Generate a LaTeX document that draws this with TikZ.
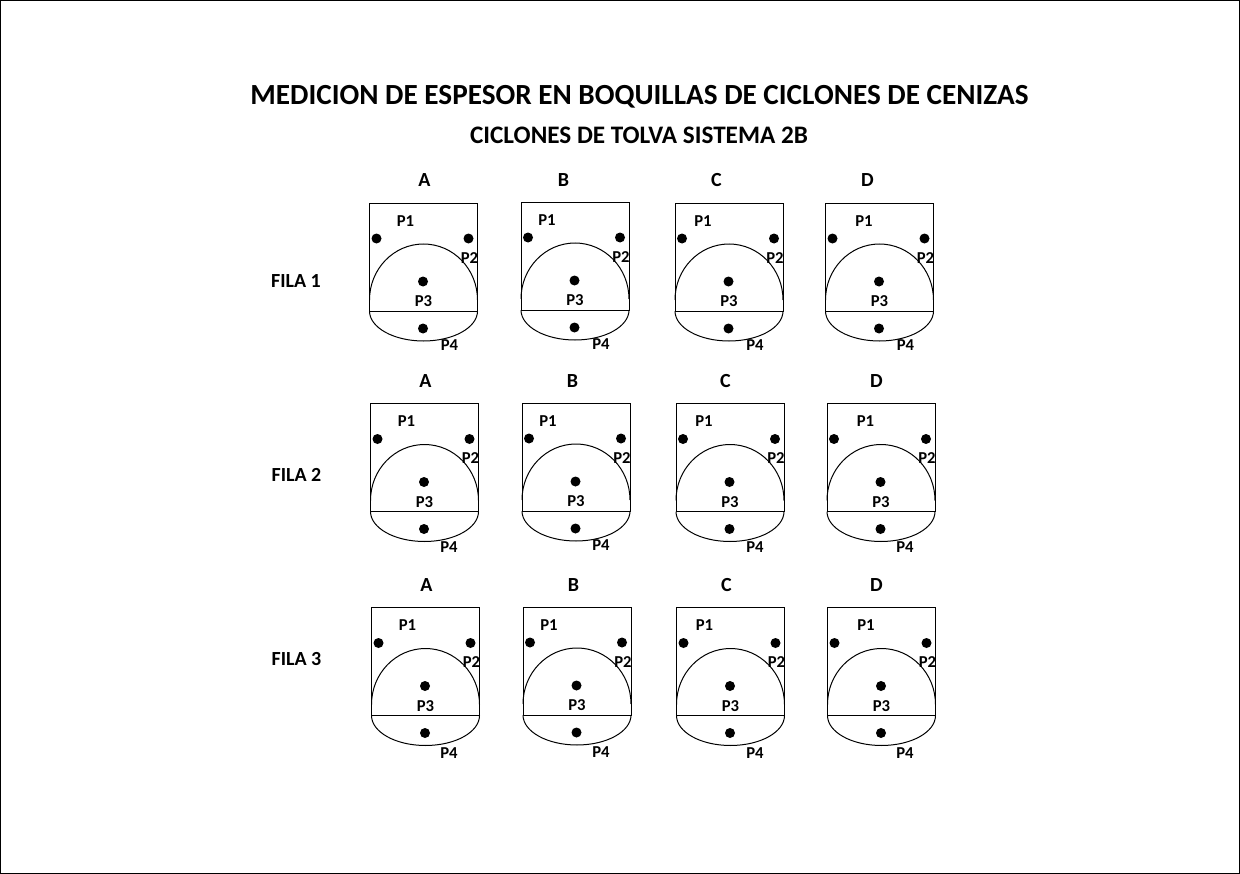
\documentclass[tikz,border=0pt]{standalone}
\usepackage{fontspec}
\setmainfont{Carlito}
\tikzset{
x=0.75pt, y=-0.75pt, % one unit is one pixel of the sheet, y going down
every node/.style={font=\bfseries\fontsize{12}{14}\selectfont, inner sep=0pt},
titlelabel/.style={font=\bfseries\fontsize{21.9}{26}\selectfont},
subtitlelabel/.style={font=\bfseries\fontsize{18.9}{22}\selectfont},
rowlabel/.style={font=\bfseries\fontsize{15}{18}\selectfont},
columnlabel/.style={font=\bfseries\fontsize{15}{18}\selectfont},
pointlabel/.style={font=\bfseries\fontsize{12.5}{15}\selectfont},
dot/.style={circle, fill=black, minimum size=7.5pt},
outline/.style={black, line width=0.75pt},
}
\begin{document}
\begin{tikzpicture}
      \useasboundingbox (0,0) rectangle (1240,874);
      \draw[outline] (0.5,0.5) rectangle (1239.5,873.5);

      \node[titlelabel] (title) at (639.5,96.5) {MEDICION DE ESPESOR EN BOQUILLAS DE CICLONES DE CENIZAS};
      \node[subtitlelabel] (subtitle) at (639,135) {CICLONES DE TOLVA SISTEMA 2B};

      \node[rowlabel] (fila1) at (296,281) {FILA 1};
      \node[rowlabel] (fila2) at (296.5,475) {FILA 2};
      \node[rowlabel] (fila3) at (296.5,659) {FILA 3};

      % left, top, column, row, P1 offset, P4 offsets, letter x, letter y
      \foreach \bx/\by/\col/\row/\pone/\pfour/\pfoury/\lx/\ly in {
        369.5/203/A/1/36/80/142/424.5/180, 521/202/B/1/26/80/142/563.5/180,
        675/203/C/1/28/80/142/716.5/180, 825.5/203/D/1/38.5/80/142/867.5/180,
        370.5/403.5/A/2/36/78.5/143.5/425.5/381, 522/403/B/2/26/79/142.5/572.5/381,
        676/403.5/C/2/28/79/143.5/725.5/381, 827/403.5/D/2/38.5/78/143.5/876.5/381,
        371.5/607.5/A/3/36/77.5/146/426.5/585, 523/607/B/3/26/78/145.5/573.5/585,
        676.5/607.5/C/3/28/78.5/146/726.5/585, 827.5/607.5/D/3/38.5/77.5/146/876.5/585} {
        \node[columnlabel] (\col\row) at (\lx,\ly) {\col};
        \begin{scope}[shift={(\bx,\by)}]
          \draw[outline] (0,0) rectangle (108,108);
          \draw[outline] (0,97) arc[start angle=180, end angle=360, x radius=54, y radius=56];
          \draw[outline] (0,108) arc[start angle=180, end angle=0, x radius=54, y radius=30];
          \node[dot] (\col\row-d1) at (7,35.5) {};
          \node[dot] (\col\row-d2) at (99,35.5) {};
          \node[dot] (\col\row-d3) at (53.5,78.5) {};
          \node[dot] (\col\row-d4) at (53.5,125.5) {};
          \node[pointlabel] (\col\row-p1) at (\pone,18) {P1};
          \node[pointlabel] (\col\row-p2) at (100,55) {P2};
          \node[pointlabel] (\col\row-p3) at (54,98.5) {P3};
          \node[pointlabel] (\col\row-p4) at (\pfour,\pfoury) {P4};
        \end{scope}
      }
    \end{tikzpicture}
\end{document}
